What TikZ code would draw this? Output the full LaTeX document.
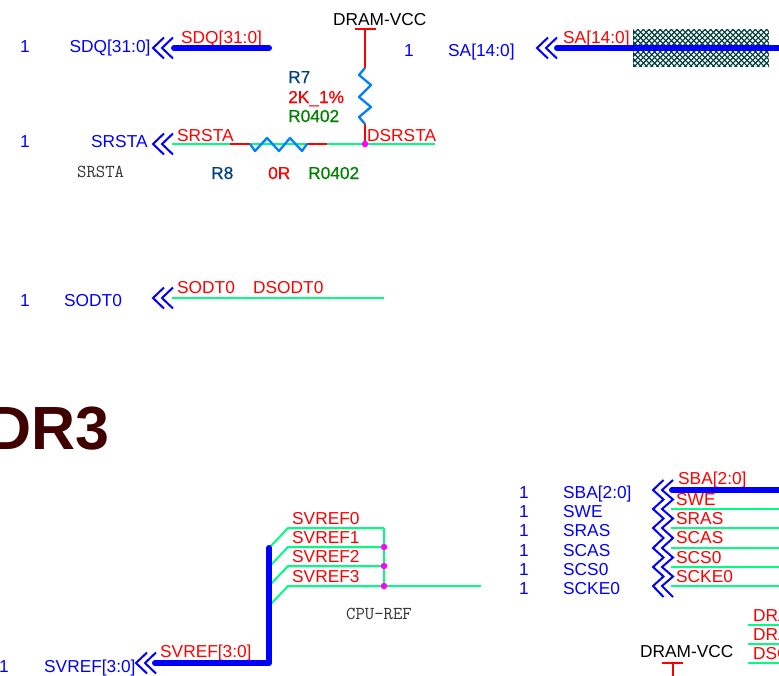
\documentclass[tikz,border=0pt]{standalone}
\usepackage{fontspec}
\setmainfont{Liberation Sans}
\usepackage{xcolor}
\definecolor{portblue}{RGB}{0,0,255}
\definecolor{netred}{RGB}{255,0,0}
\definecolor{wiregreen}{RGB}{0,255,128}
\definecolor{resblue}{RGB}{0,128,255}
\definecolor{refblue}{RGB}{0,64,128}
\definecolor{valgreen}{RGB}{0,128,0}
\definecolor{dotpink}{RGB}{255,0,255}
\definecolor{titlered}{RGB}{64,0,0}
\definecolor{hatchteal}{RGB}{0,64,64}
\newfontfamily\heavyfont[FakeBold=0.6]{Liberation Sans}
\tikzset{
    lbl/.style={inner sep=0pt,anchor=base west,font=\fontsize{17.3}{17.3}\selectfont},
    port/.style={lbl,text=portblue},
    net/.style={lbl,text=netred},
    power/.style={lbl,text=black},
    refdes/.style={lbl,text=refblue,font=\fontsize{17.3}{17.3}\heavyfont},
    partval/.style={lbl,text=netred,font=\fontsize{17.3}{17.3}\heavyfont},
    footprint/.style={lbl,text=valgreen,font=\fontsize{17.3}{17.3}\heavyfont},
    comment/.style={inner sep=0pt,anchor=base west,text=black!80,font=\fontsize{18.2}{18.2}\selectfont\ttfamily},
    wire/.style={draw=wiregreen,line width=2pt},
    redwire/.style={draw=netred,line width=2pt},
    bus/.style={draw=portblue,line width=6pt,line cap=round,line join=round},
    chevron/.style={draw=portblue,line width=2pt},
    resistor/.style={draw=resblue,line width=2.3pt,line join=round},
    junction/.style={circle,fill=dotpink,inner sep=0pt,minimum size=6.5pt}
}
\newcommand{\offpage}[2]{%
    \draw[chevron] (#1+11,#2-10.5) -- (#1,#2) -- (#1+11,#2+10.5);
    \draw[chevron] (#1+9+11,#2-10.5) -- (#1+9,#2) -- (#1+9+11,#2+10.5);
}
\begin{document}
\begin{tikzpicture}[x=1pt,y=-1pt]
    \useasboundingbox (0,0) rectangle (779,675);
    \clip (0,0) rectangle (779,675);

    \begin{scope}
    \clip (633,29) rectangle (769,67);
    \fill[hatchteal] (633,29) rectangle (769,67);
    \foreach \r in {0,...,14}
        \foreach \c in {0,...,24}
            \fill[white] ({635+5.6*\c+mod(\r,2)*2.8},{29.5+2.8*\r}) circle (1.75);
    \end{scope}

    \node[port] (sdqone) at (20,52) {1};
    \node[port] (sdqport) at (69.5,52) {SDQ[31:0]};
    \node[net] (sdqnet) at (181,43) {SDQ[31:0]};
    \offpage{153}{48}
    \coordinate (sdqa) at (174,48);
    \coordinate (sdqb) at (269,48);
    \draw[bus] (sdqa) -- (sdqb);

    \node[port] (saone) at (404,56) {1};
    \node[port] (saport) at (448,56) {SA[14:0]};
    \node[net] (sanet) at (563,43) {SA[14:0]};
    \offpage{537}{48}
    \coordinate (saa) at (557,48);
    \coordinate (sab) at (785,48);
    \draw[bus] (saa) -- (sab);

    \node[power] (vcctop) at (333,25) {DRAM-VCC};
    \coordinate (vccbarl) at (355,29);
    \coordinate (vccbarr) at (376,29);
    \coordinate (vcctee) at (365,29);
    \coordinate (rsevena) at (365,68);
    \coordinate (rsevenb) at (365,124);
    \coordinate (dsrstapt) at (365,144);
    \draw[redwire] (vccbarl) -- (vccbarr);
    \draw[redwire] (vcctee) -- (rsevena);
    \draw[redwire] (rsevenb) -- (dsrstapt);
    \draw[resistor] (rsevena) -- (359,75) -- (371,85) -- (359,97) -- (371,107) -- (359,117) -- (rsevenb);
    \node[refdes] (rsevenref) at (288,83) {R7};
    \node[partval] (rsevenval) at (288,103) {2K\_1\%};
    \node[footprint] (rsevenfp) at (288,122) {R0402};

    \node[port] (srstaone) at (20,147) {1};
    \node[port] (srstaport) at (91,147) {SRSTA};
    \node[net] (srstanet) at (177,141) {SRSTA};
    \node[net] (dsrstanet) at (367,141) {DSRSTA};
    \node[comment] (srstatxt) at (77,177) {SRSTA};
    \offpage{153}{144}
    \coordinate (srstaa) at (172,144);
    \coordinate (srstab) at (435,144);
    \coordinate (reighta) at (230,144);
    \coordinate (reightb) at (250,144);
    \coordinate (reightc) at (307,144);
    \coordinate (reightd) at (327,144);
    \draw[wire] (srstaa) -- (srstab);
    \draw[redwire] (reighta) -- (reightb);
    \draw[redwire] (reightc) -- (reightd);
    \fill[white] (reightb) ++(0,-2) rectangle ([yshift=2pt]reightc);
    \draw[resistor] (reightb) -- (255,151) -- (267,138) -- (279,151) -- (290,138) -- (302,151) -- (reightc);
    \node[junction] (dsrstadot) at (dsrstapt) {};
    \node[refdes] (reightref) at (211,179) {R8};
    \node[partval] (reightval) at (268,179) {0R};
    \node[footprint] (reightfp) at (308,179) {R0402};

    \node[port] (sodtone) at (20,306.5) {1};
    \node[port] (sodtport) at (64,306.5) {SODT0};
    \node[net] (sodtnet) at (177,293.5) {SODT0};
    \node[net] (dsodtnet) at (253,293.5) {DSODT0};
    \offpage{153}{298}
    \coordinate (sodta) at (172,297.5);
    \coordinate (sodtb) at (384,297.5);
    \draw[wire] (sodta) -- (sodtb);

    \node[inner sep=0pt,anchor=base east,text=titlered,font=\fontsize{61}{61}\selectfont\bfseries] (title) at (110,449) {DDR3};

    \node[port] (svrefone) at (-1,672) {1};
    \node[port] (svrefport) at (44,672) {SVREF[3:0]};
    \node[net] (svrefnet) at (160,657) {SVREF[3:0]};
    \offpage{136}{663}
    \coordinate (svbusa) at (155,663);
    \coordinate (svbusb) at (269,663);
    \coordinate (svbusc) at (269,548);
    \coordinate (cpuref) at (481,586);
    \foreach \i/\y in {0/528,1/547,2/566,3/586} {
        \coordinate (svrefs\i) at (269,\y+20);
        \coordinate (svrefk\i) at (288,\y);
        \coordinate (svrefe\i) at (384,\y);
        \node[net] (svreflbl\i) at (292,\y-3.5) {SVREF\i};
        \draw[wire] (svrefs\i) -- (svrefk\i) -- (svrefe\i);
    }
    \draw[wire] (svrefe0) -- (svrefe3);
    \draw[wire] (svrefe3) -- (cpuref);
    \draw[bus] (svbusa) -- (svbusb) -- (svbusc);
    \node[junction] (svdotone) at (svrefe1) {};
    \node[junction] (svdottwo) at (svrefe2) {};
    \node[junction] (svdotthree) at (svrefe3) {};
    \node[comment] (cpureftxt) at (346,619) {CPU-REF};

    \draw[chevron] (663.5,480) -- (653,490) -- (663.5,499.5) -- (653,509) -- (663.5,518.5) -- (653,528) -- (663.5,538) -- (653,548) -- (663.5,557.5) -- (653,567) -- (663.5,576.5) -- (653,586) -- (663.5,597);
    \draw[chevron] (673,480) -- (662,490) -- (673,499.5) -- (662,509) -- (673,518.5) -- (662,528) -- (673,538) -- (662,548) -- (673,557.5) -- (662,567) -- (673,576.5) -- (662,586) -- (673,597);
    \foreach \i/\nm/\yb/\xn/\yn in {1/SBA[2:0]/498/678/484.5,2/SWE/517/676/505,3/SRAS/536/676/524,4/SCAS/556/676/543.5,5/SCS0/575/676/563,6/SCKE0/594/676/582} {
        \node[port] (sigone\i) at (519,\yb) {1};
        \node[port] (sigport\i) at (563,\yb) {\nm};
        \node[net] (signet\i) at (\xn,\yn) {\nm};
    }
    \foreach \i/\y in {2/509,3/528,4/548,5/567,6/586} {
        \coordinate (siga\i) at (671,\y);
        \coordinate (sigb\i) at (785,\y);
        \draw[wire] (siga\i) -- (sigb\i);
    }
    \coordinate (sbaa) at (672,490);
    \coordinate (sbab) at (785,490);
    \draw[bus] (sbaa) -- (sbab);

    \foreach \i/\nm/\y in {1/DRA/625,2/DRA/644,3/DSO/663} {
        \coordinate (dra\i) at (748,\y);
        \coordinate (drb\i) at (785,\y);
        \node[net] (drnet\i) at (753,\y-4) {\nm};
        \draw[wire] (dra\i) -- (drb\i);
    }

    \node[power] (vccbot) at (640,657) {DRAM-VCC};
    \coordinate (vccbotl) at (662,662.5);
    \coordinate (vccbotr) at (683,662.5);
    \coordinate (vccbott) at (672.5,662.5);
    \coordinate (vccbotd) at (672.5,680);
    \draw[redwire] (vccbotl) -- (vccbotr);
    \draw[redwire] (vccbott) -- (vccbotd);
\end{tikzpicture}
\end{document}
